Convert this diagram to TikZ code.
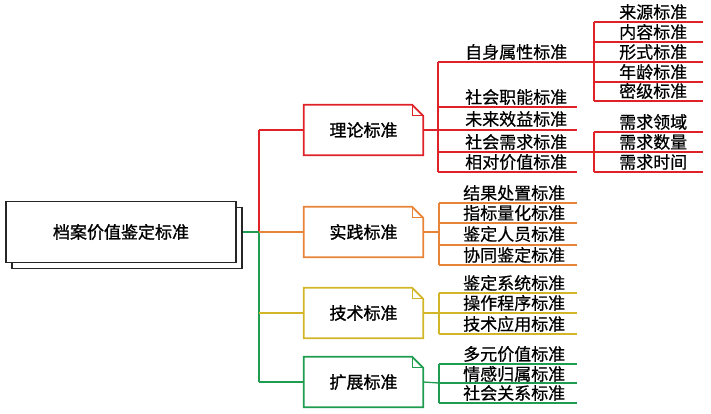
\documentclass[tikz,border=0pt]{standalone}
\usepackage{fontspec}
\setmainfont{Noto Sans CJK SC}
\newfontfamily\cjkb[FakeBold=1.2]{Noto Sans CJK SC}
\newfontfamily\cjkm[FakeBold=0.6]{Noto Sans CJK SC}
\definecolor{cred}{RGB}{222,34,40}
\definecolor{corange}{RGB}{232,132,56}
\definecolor{cyellow}{RGB}{210,182,40}
\definecolor{cgreen}{RGB}{30,156,80}
\newcommand\fsz{\cjkm\fontsize{17}{17}\selectfont}
\newcommand\fszb{\cjkb\fontsize{17}{17}\selectfont}
\newcommand\foldframe[2]{%
  \draw[line width=1.8pt,#2,line join=miter] (#1.south west) -- (#1.north west) -- ([xshift=-11pt]#1.north east) -- ([yshift=-11pt]#1.north east) -- (#1.south east) -- cycle;
  \draw[line width=0.9pt,#2] ([xshift=-11pt]#1.north east) |- ([yshift=-11pt]#1.north east);}
\begin{document}
\begin{tikzpicture}[x=1pt,y=-1pt,
  item/.style={anchor=west,inner sep=0pt,font=\fsz},
  conn/.style={line width=1.3pt},
  catbox/.style={minimum width=119pt,minimum height=50pt,inner sep=0pt,font=\fszb},
  rootbox/.style={draw=black!85,line width=1.6pt,fill=white,minimum width=230pt,minimum height=61pt,inner sep=0pt,font=\fszb}]
\useasboundingbox (0,0) rectangle (711,413);
% root with shadow
\node[rootbox] (rootsh) at (127,238) {};
\node[rootbox] (root) at (121,232) {档案价值鉴定标准};
% category boxes
\node[catbox] (c1) at (363.5,130) {理论标准};
\node[catbox] (c2) at (363.5,232) {实践标准};
\node[catbox] (c3) at (363.5,313) {技术标准};
\node[catbox] (c4) at (363.5,382) {扩展标准};
\foldframe{c1}{cred}
\foldframe{c2}{corange}
\foldframe{c3}{cyellow}
\foldframe{c4}{cgreen}
% trunk
\coordinate (t1) at (259,130);
\coordinate (t2) at (259,232);
\coordinate (t3) at (259,313);
\coordinate (t4) at (259,382);
\draw[conn,cred] (t1) -- (t2);
\draw[conn,cgreen] (t2) -- (t4);
\draw[conn,cgreen] (rootsh.east |- t2) -- (t2);
\draw[conn,cred] (t1) -- (c1.west);
\draw[conn,corange] (t2) -- (c2.west);
\draw[conn,cyellow] (t3) -- (c3.west);
\draw[conn,cgreen] (t4) -- (c4.west);
% ---- 理论 branch
\coordinate (b1) at (438,130);
\draw[conn,cred] (c1.east) -- (b1);
\draw[conn,cred] (438,62) -- (438,172);
\node[item] (a1) at (465,52) {自身属性标准};
\node[item] (a2) at (465,97) {社会职能标准};
\node[item] (a3) at (465,119) {未来效益标准};
\node[item] (a4) at (465,142) {社会需求标准};
\node[item] (a5) at (465,162) {相对价值标准};
\draw[conn,cred] (438,62) -- (594,62);
\draw[conn,cred] (438,107) -- (577,107);
\draw[conn,cred] (438,130) -- (577,130);
\draw[conn,cred] (438,152) -- (594,152);
\draw[conn,cred] (438,172) -- (577,172);
% sub-sub: 自身属性
\draw[conn,cred] (594,22) -- (594,101);
\node[item] (s1) at (619,12) {来源标准};
\node[item] (s2) at (619,32) {内容标准};
\node[item] (s3) at (619,52) {形式标准};
\node[item] (s4) at (619,72) {年龄标准};
\node[item] (s5) at (619,91) {密级标准};
\foreach \y in {22,42,62,82,101} \draw[conn,cred] (594,\y) -- (703,\y);
% sub-sub: 社会需求
\draw[conn,cred] (594,132) -- (594,172);
\node[item] (r1) at (619,122) {需求领域};
\node[item] (r2) at (619,142) {需求数量};
\node[item] (r3) at (619,162) {需求时间};
\foreach \y in {132,152,172} \draw[conn,cred] (594,\y) -- (703,\y);
% ---- 实践 branch
\draw[conn,corange] (c2.east) -- (439,232);
\draw[conn,corange] (439,203) -- (439,265);
\node[item] (p1) at (463,193) {结果处置标准};
\node[item] (p2) at (463,213) {指标量化标准};
\node[item] (p3) at (463,234) {鉴定人员标准};
\node[item] (p4) at (463,255) {协同鉴定标准};
\foreach \y in {203,223,245,265} \draw[conn,corange] (439,\y) -- (577,\y);
% ---- 技术 branch
\draw[conn,cyellow] (c3.east) -- (439,313);
\draw[conn,cyellow] (439,293) -- (439,334);
\node[item] (q1) at (463,283) {鉴定系统标准};
\node[item] (q2) at (463,303) {操作程序标准};
\node[item] (q3) at (463,324) {技术应用标准};
\foreach \y in {293,313,334} \draw[conn,cyellow] (439,\y) -- (577,\y);
% ---- 扩展 branch
\draw[conn,cgreen] (c4.east) -- (439,383);
\draw[conn,cgreen] (439,364) -- (439,403);
\node[item] (e1) at (463,354) {多元价值标准};
\node[item] (e2) at (463,374) {情感归属标准};
\node[item] (e3) at (463,393) {社会关系标准};
\foreach \y in {364,383,403} \draw[conn,cgreen] (439,\y) -- (577,\y);
\end{tikzpicture}
\end{document}
